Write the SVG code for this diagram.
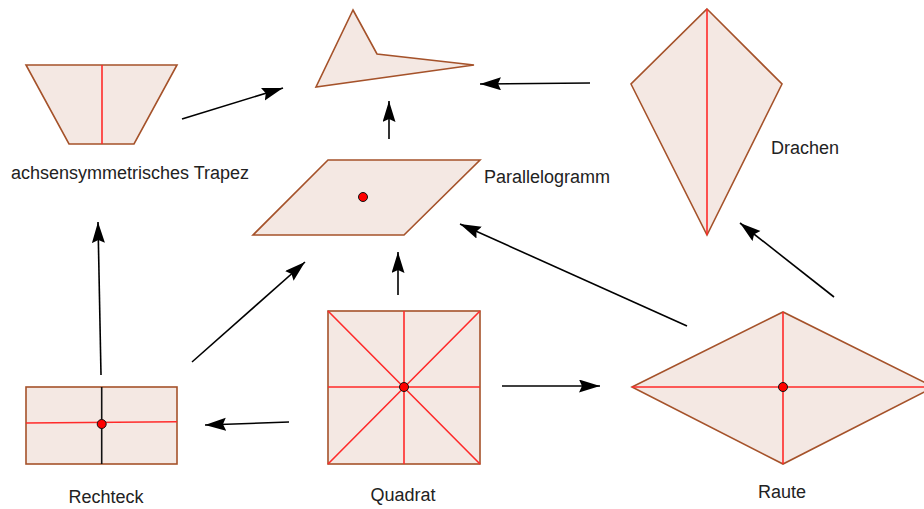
<svg xmlns="http://www.w3.org/2000/svg" width="924" height="509" viewBox="0 0 924 509">
<defs>
<style>
.shape{fill:#f4e8e3;stroke:#a5522a;stroke-width:1.6;stroke-linejoin:miter}
.axis{stroke:#ff2a2a;stroke-width:1.6;fill:none}
.blk{stroke:#111;stroke-width:1.6;fill:none}
.dot{fill:#ff0000;stroke:#111;stroke-width:1}
.lbl{font-family:"Liberation Sans",Arial,sans-serif;font-size:18px;fill:#222}
.arr{stroke:#000;stroke-width:1.6;fill:none;marker-end:url(#ah)}
</style>
<marker id="ah" markerUnits="userSpaceOnUse" markerWidth="24" markerHeight="14" refX="21" refY="6.5" orient="auto">
<path d="M0,0 L21,6.5 L0,13 L3,6.5 z" fill="#000"/>
</marker>
</defs>
<rect width="924" height="509" fill="#fff"/>
<g id="trapez">
<polygon class="shape" points="26,65 177,65 134,144 69,144"/>
<line class="axis" x1="102" y1="65" x2="102" y2="144"/>
<text class="lbl" x="11" y="179">achsensymmetrisches Trapez</text>
</g>
<g id="viereck">
<polygon class="shape" points="353,10 377,54 474,65 316,87"/>
</g>
<g id="parallelogramm">
<polygon class="shape" points="328,160 480,160 404,235 253,235"/>
<circle class="dot" cx="363" cy="197" r="4.5"/>
<text class="lbl" x="484" y="183">Parallelogramm</text>
</g>
<g id="drachen">
<polygon class="shape" points="707,9 782,84 707,235 631,84"/>
<line class="axis" x1="707" y1="9" x2="707" y2="235"/>
<text class="lbl" x="771" y="153.5">Drachen</text>
</g>
<g id="rechteck">
<rect class="shape" x="26" y="387" width="151" height="77"/>
<line class="axis" x1="26" y1="423" x2="177" y2="421.7"/>
<line class="blk" x1="101.7" y1="387" x2="101.7" y2="464"/>
<circle class="dot" cx="101.7" cy="424" r="4.5"/>
<text class="lbl" x="106" y="503" text-anchor="middle">Rechteck</text>
</g>
<g id="quadrat">
<rect class="shape" x="328" y="311" width="152" height="153"/>
<path class="axis" d="M328,311 L480,464 M480,311 L328,464 M404,311 L404,464 M328,387 L480,387"/>
<circle class="dot" cx="404" cy="387" r="4.5"/>
<text class="lbl" x="403" y="501" text-anchor="middle">Quadrat</text>
</g>
<g id="raute">
<polygon class="shape" points="632,387 783,312 934,387 783,464"/>
<path class="axis" d="M632,387 L934,387 M783,312 L783,464"/>
<circle class="dot" cx="783" cy="387" r="4.5"/>
<text class="lbl" x="782" y="497.5" text-anchor="middle">Raute</text>
</g>
<g id="connectors">
<line class="arr" x1="182" y1="119" x2="283" y2="88"/>
<line class="arr" x1="389" y1="139" x2="389" y2="101"/>
<line class="arr" x1="590" y1="83" x2="480" y2="84"/>
<line class="arr" x1="834" y1="297" x2="740" y2="223"/>
<line class="arr" x1="687" y1="326" x2="460" y2="224"/>
<line class="arr" x1="398" y1="295" x2="398" y2="252"/>
<line class="arr" x1="192" y1="362" x2="305" y2="262"/>
<line class="arr" x1="101" y1="375" x2="98" y2="222"/>
<line class="arr" x1="289" y1="422" x2="205" y2="425"/>
<line class="arr" x1="502" y1="386" x2="600" y2="386"/>
</g>
</svg>
